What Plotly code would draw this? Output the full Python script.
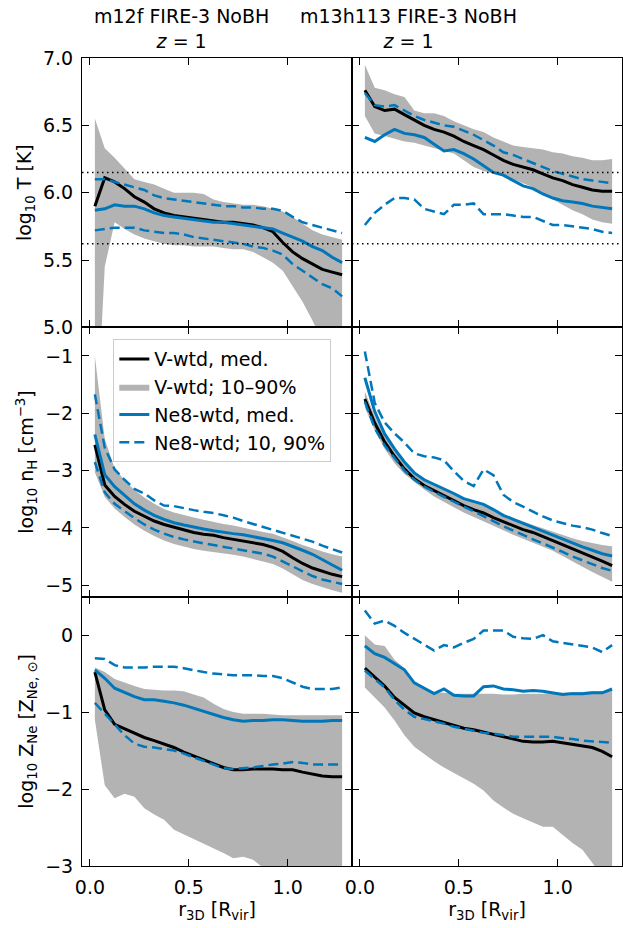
"""Radial profiles of T, n_H and Z_Ne for two FIRE-3 NoBH haloes at z=1."""

import plotly.graph_objects as go
from plotly.subplots import make_subplots

# radial bin centres [R_vir]
R_BINS = [0.025, 0.075, 0.125, 0.175, 0.225, 0.275, 0.325, 0.375, 0.425,
          0.475, 0.525, 0.575, 0.625, 0.675, 0.725, 0.775, 0.825, 0.875,
          0.925, 0.975, 1.025, 1.075, 1.125, 1.175, 1.225, 1.275]

HALOS = ["m12f FIRE-3 NoBH", "m13h113 FIRE-3 NoBH"]

# ---- log10 T [K] ----
T_V_MED = [
    [5.90, 6.11, 6.08, 6.03, 5.97, 5.93, 5.88, 5.85, 5.83, 5.82, 5.81, 5.80, 5.79,
     5.78, 5.78, 5.77, 5.76, 5.74, 5.71, 5.63, 5.56, 5.51, 5.47, 5.43, 5.41, 5.39],
    [6.76, 6.64, 6.61, 6.62, 6.58, 6.54, 6.50, 6.47, 6.45, 6.42, 6.38, 6.35, 6.32,
     6.28, 6.24, 6.21, 6.19, 6.17, 6.14, 6.11, 6.09, 6.06, 6.04, 6.02, 6.01, 6.01],
]
T_V_LO = [
    [4.00, 5.45, 5.78, 5.73, 5.69, 5.66, 5.64, 5.62, 5.61, 5.61, 5.60, 5.60, 5.60,
     5.59, 5.58, 5.58, 5.56, 5.52, 5.48, 5.42, 5.31, 5.19, 5.05, 4.90, 4.80, 4.75],
    [6.57, 6.44, 6.42, 6.40, 6.38, 6.37, 6.35, 6.33, 6.31, 6.29, 6.24, 6.19, 6.16,
     6.14, 6.12, 6.10, 6.07, 6.04, 5.99, 5.95, 5.91, 5.87, 5.84, 5.80, 5.78, 5.77],
]
T_V_HI = [
    [6.55, 6.33, 6.26, 6.18, 6.10, 6.08, 6.06, 6.03, 6.00, 6.00, 6.00, 5.99, 5.95,
     5.93, 5.92, 5.91, 5.91, 5.90, 5.88, 5.86, 5.82, 5.77, 5.72, 5.69, 5.67, 5.65],
    [6.95, 6.78, 6.76, 6.73, 6.71, 6.61, 6.59, 6.59, 6.57, 6.53, 6.50, 6.47, 6.45,
     6.41, 6.38, 6.35, 6.34, 6.33, 6.32, 6.30, 6.29, 6.27, 6.26, 6.24, 6.24, 6.25],
]
T_NE8_MED = [
    [5.87, 5.88, 5.91, 5.90, 5.90, 5.88, 5.85, 5.83, 5.82, 5.81, 5.80, 5.79, 5.78,
     5.78, 5.77, 5.76, 5.75, 5.74, 5.73, 5.70, 5.67, 5.64, 5.60, 5.57, 5.52, 5.48],
    [6.41, 6.38, 6.43, 6.47, 6.44, 6.43, 6.41, 6.36, 6.31, 6.32, 6.29, 6.25, 6.20,
     6.15, 6.13, 6.09, 6.05, 6.03, 5.99, 5.96, 5.94, 5.93, 5.92, 5.90, 5.89, 5.88],
]
T_NE8_LO = [
    [5.72, 5.73, 5.74, 5.74, 5.74, 5.72, 5.71, 5.70, 5.70, 5.69, 5.67, 5.66, 5.65,
     5.64, 5.63, 5.62, 5.60, 5.59, 5.57, 5.54, 5.47, 5.42, 5.37, 5.32, 5.29, 5.23],
    [5.76, 5.85, 5.91, 5.96, 5.96, 5.95, 5.88, 5.86, 5.84, 5.91, 5.91, 5.92, 5.84,
     5.84, 5.84, 5.83, 5.82, 5.82, 5.79, 5.76, 5.76, 5.75, 5.74, 5.73, 5.71, 5.70],
]
T_NE8_HI = [
    [6.10, 6.10, 6.08, 6.06, 6.04, 6.02, 5.98, 5.96, 5.95, 5.94, 5.93, 5.92, 5.91,
     5.90, 5.90, 5.89, 5.89, 5.88, 5.88, 5.865, 5.82, 5.78, 5.76, 5.74, 5.72, 5.70],
    [6.74, 6.65, 6.64, 6.65, 6.61, 6.57, 6.54, 6.52, 6.50, 6.49, 6.46, 6.43, 6.39,
     6.35, 6.30, 6.28, 6.25, 6.22, 6.19, 6.16, 6.14, 6.12, 6.10, 6.09, 6.08, 6.07],
]
T_REF_LINES = [6.15, 5.62]

# ---- log10 n_H [cm^-3] ----
NH_V_MED = [
    [-2.55, -3.25, -3.45, -3.59, -3.71, -3.80, -3.88, -3.94, -3.99, -4.03, -4.08, -4.11, -4.13,
     -4.17, -4.20, -4.23, -4.26, -4.29, -4.34, -4.41, -4.52, -4.62, -4.70, -4.76, -4.81, -4.85],
    [-1.75, -2.17, -2.50, -2.75, -2.97, -3.14, -3.26, -3.35, -3.43, -3.52, -3.61, -3.68, -3.74,
     -3.82, -3.89, -3.97, -4.03, -4.08, -4.15, -4.22, -4.29, -4.36, -4.43, -4.50, -4.58, -4.66],
]
NH_V_LO = [
    [-3.03, -3.46, -3.66, -3.81, -3.94, -4.05, -4.14, -4.22, -4.28, -4.33, -4.37, -4.40, -4.42,
     -4.44, -4.47, -4.50, -4.54, -4.58, -4.63, -4.71, -4.81, -4.91, -4.98, -5.04, -5.09, -5.13],
    [-1.90, -2.30, -2.62, -2.87, -3.06, -3.20, -3.33, -3.45, -3.55, -3.64, -3.73, -3.81, -3.89,
     -3.97, -4.05, -4.12, -4.19, -4.26, -4.33, -4.40, -4.49, -4.59, -4.68, -4.77, -4.86, -4.94],
]
NH_V_HI = [
    [-1.00, -2.45, -2.96, -3.17, -3.34, -3.47, -3.58, -3.67, -3.73, -3.78, -3.82, -3.86, -3.90,
     -3.93, -3.96, -4.00, -4.03, -4.07, -4.10, -4.16, -4.23, -4.30, -4.36, -4.41, -4.46, -4.50],
    [-1.62, -2.05, -2.40, -2.66, -2.87, -3.04, -3.15, -3.24, -3.31, -3.39, -3.47, -3.53, -3.60,
     -3.68, -3.76, -3.83, -3.89, -3.95, -4.01, -4.07, -4.13, -4.18, -4.23, -4.27, -4.30, -4.32],
]
NH_NE8_MED = [
    [-2.37, -3.07, -3.28, -3.43, -3.58, -3.69, -3.78, -3.85, -3.91, -3.95, -3.99, -4.02, -4.05,
     -4.08, -4.10, -4.12, -4.15, -4.18, -4.22, -4.26, -4.32, -4.39, -4.46, -4.55, -4.64, -4.74],
    [-1.38, -1.97, -2.36, -2.62, -2.85, -3.04, -3.16, -3.24, -3.31, -3.40, -3.49, -3.54, -3.59,
     -3.68, -3.78, -3.85, -3.92, -3.98, -4.06, -4.13, -4.20, -4.27, -4.33, -4.39, -4.45, -4.49],
]
NH_NE8_LO = [
    [-2.85, -3.38, -3.58, -3.71, -3.83, -3.94, -4.03, -4.10, -4.16, -4.20, -4.24, -4.27, -4.30,
     -4.33, -4.36, -4.39, -4.42, -4.45, -4.50, -4.58, -4.67, -4.76, -4.84, -4.90, -4.94, -4.98],
    [-1.80, -2.26, -2.56, -2.79, -3.00, -3.16, -3.28, -3.37, -3.46, -3.55, -3.63, -3.71, -3.79,
     -3.88, -3.97, -4.05, -4.13, -4.20, -4.27, -4.34, -4.42, -4.50, -4.57, -4.64, -4.70, -4.75],
]
NH_NE8_HI = [
    [-1.67, -2.60, -2.98, -3.16, -3.32, -3.40, -3.52, -3.61, -3.62, -3.66, -3.69, -3.72, -3.74,
     -3.78, -3.82, -3.88, -3.93, -3.99, -4.04, -4.08, -4.13, -4.18, -4.24, -4.31, -4.37, -4.43],
    [-0.92, -1.82, -2.16, -2.35, -2.51, -2.70, -2.75, -2.77, -2.82, -3.01, -3.18, -3.27, -2.98,
     -3.08, -3.42, -3.55, -3.63, -3.72, -3.80, -3.87, -3.92, -3.96, -3.99, -4.03, -4.09, -4.14],
]

# ---- log10 Z_Ne [Z_Ne,sun] ----
Z_V_MED = [
    [-0.48, -0.97, -1.16, -1.22, -1.28, -1.33, -1.37, -1.41, -1.46, -1.52, -1.57, -1.62, -1.67,
     -1.72, -1.75, -1.75, -1.74, -1.74, -1.74, -1.75, -1.75, -1.78, -1.81, -1.83, -1.84, -1.84],
    [-0.43, -0.54, -0.66, -0.81, -0.91, -1.01, -1.06, -1.10, -1.14, -1.18, -1.21, -1.23, -1.26,
     -1.30, -1.33, -1.36, -1.38, -1.39, -1.39, -1.38, -1.40, -1.42, -1.44, -1.46, -1.51, -1.58],
]
Z_V_LO = [
    [-1.10, -1.95, -2.12, -2.06, -2.10, -2.25, -2.33, -2.40, -2.53, -2.59, -2.64, -2.70, -2.76,
     -2.83, -2.90, -2.88, -2.92, -3.02, -3.10, -3.20, -3.25, -3.30, -3.35, -3.40, -3.45, -3.50],
    [-0.68, -0.81, -0.94, -1.11, -1.30, -1.45, -1.55, -1.64, -1.72, -1.79, -1.86, -1.93, -2.02,
     -2.15, -2.24, -2.32, -2.38, -2.44, -2.49, -2.49, -2.60, -2.70, -2.79, -2.97, -3.15, -3.30],
]
Z_V_HI = [
    [-0.42, -0.48, -0.57, -0.62, -0.66, -0.70, -0.71, -0.72, -0.72, -0.73, -0.77, -0.81, -0.89,
     -0.96, -1.00, -1.02, -1.02, -1.02, -1.03, -1.04, -1.04, -1.04, -1.04, -1.04, -1.04, -1.04],
    [0.00, -0.12, -0.14, -0.32, -0.43, -0.62, -0.69, -0.74, -0.75, -0.76, -0.76, -0.76, -0.76,
     -0.76, -0.77, -0.77, -0.76, -0.76, -0.76, -0.75, -0.75, -0.74, -0.74, -0.73, -0.73, -0.72],
]
Z_NE8_MED = [
    [-0.45, -0.56, -0.69, -0.75, -0.80, -0.84, -0.84, -0.86, -0.88, -0.91, -0.95, -1.00, -1.04,
     -1.07, -1.10, -1.12, -1.11, -1.11, -1.10, -1.10, -1.11, -1.12, -1.12, -1.12, -1.11, -1.11],
    [-0.14, -0.24, -0.29, -0.37, -0.45, -0.62, -0.69, -0.76, -0.70, -0.78, -0.79, -0.79, -0.67,
     -0.66, -0.70, -0.71, -0.73, -0.72, -0.73, -0.75, -0.77, -0.76, -0.76, -0.75, -0.75, -0.70],
]
Z_NE8_LO = [
    [-0.88, -1.02, -1.15, -1.30, -1.41, -1.45, -1.46, -1.48, -1.50, -1.54, -1.59, -1.64, -1.69,
     -1.73, -1.74, -1.73, -1.72, -1.70, -1.68, -1.67, -1.65, -1.66, -1.68, -1.68, -1.68, -1.68],
    [-0.46, -0.57, -0.68, -0.84, -0.97, -1.06, -1.09, -1.12, -1.15, -1.19, -1.22, -1.25, -1.27,
     -1.28, -1.30, -1.32, -1.32, -1.32, -1.32, -1.32, -1.34, -1.35, -1.37, -1.38, -1.39, -1.40],
]
Z_NE8_HI = [
    [-0.30, -0.31, -0.39, -0.42, -0.42, -0.42, -0.41, -0.41, -0.41, -0.43, -0.46, -0.48, -0.50,
     -0.51, -0.52, -0.52, -0.52, -0.53, -0.53, -0.56, -0.62, -0.67, -0.70, -0.70, -0.70, -0.68],
    [0.32, 0.15, 0.19, 0.12, 0.03, -0.05, -0.12, -0.20, -0.13, -0.16, -0.10, -0.05, 0.06,
     0.06, 0.06, -0.02, -0.04, -0.05, 0.00, -0.08, -0.10, -0.12, -0.14, -0.16, -0.22, -0.13],
]

BLUE = "#0077bb"
GREY = "#b3b3b3"
FONT = "DejaVu Sans"
FS = 19

ROWS = [
    (T_V_MED, T_V_LO, T_V_HI, T_NE8_MED, T_NE8_LO, T_NE8_HI),
    (NH_V_MED, NH_V_LO, NH_V_HI, NH_NE8_MED, NH_NE8_LO, NH_NE8_HI),
    (Z_V_MED, Z_V_LO, Z_V_HI, Z_NE8_MED, Z_NE8_LO, Z_NE8_HI),
]
Y_TITLES = [
    "log<sub>10</sub> T [K]",
    "log<sub>10</sub> n<sub>H</sub> [cm<sup>−3</sup>]",
    "log<sub>10</sub> Z<sub>Ne</sub> [Z<sub>Ne, ⊙</sub>]",
]
Y_RANGES = [[5.0, 7.0], [-5.2, -0.5], [-3.0, 0.5]]
Y_DTICK = [0.5, 1, 1]
DASH = "10px,5px"

fig = make_subplots(rows=3, cols=2, horizontal_spacing=0, vertical_spacing=0,
                    shared_xaxes=True, shared_yaxes=True)

for r, (v_med, v_lo, v_hi, n_med, n_lo, n_hi) in enumerate(ROWS, start=1):
    for c in (1, 2):
        i = c - 1
        legend = (r == 2 and c == 1)
        fig.add_trace(go.Scatter(
            x=R_BINS, y=v_lo[i], mode="lines", line=dict(width=0, color=GREY),
            showlegend=False, hoverinfo="skip",
        ), row=r, col=c)
        fig.add_trace(go.Scatter(
            x=R_BINS, y=v_hi[i], mode="lines", line=dict(width=0, color=GREY),
            fill="tonexty", fillcolor=GREY, name="V-wtd; 10–90%",
            showlegend=legend, legendrank=2,
        ), row=r, col=c)
        fig.add_trace(go.Scatter(
            x=R_BINS, y=v_med[i], mode="lines", line=dict(width=3, color="black"),
            name="V-wtd, med.", showlegend=legend, legendrank=1,
        ), row=r, col=c)
        fig.add_trace(go.Scatter(
            x=R_BINS, y=n_med[i], mode="lines", line=dict(width=3, color=BLUE),
            name="Ne8-wtd, med.", showlegend=legend, legendrank=3,
        ), row=r, col=c)
        fig.add_trace(go.Scatter(
            x=R_BINS, y=n_lo[i], mode="lines",
            line=dict(width=2.5, color=BLUE, dash=DASH),
            name="Ne8-wtd; 10, 90%", showlegend=legend, legendrank=4,
        ), row=r, col=c)
        fig.add_trace(go.Scatter(
            x=R_BINS, y=n_hi[i], mode="lines",
            line=dict(width=2.5, color=BLUE, dash=DASH),
            showlegend=False,
        ), row=r, col=c)

for c in (1, 2):
    for t in T_REF_LINES:
        fig.add_hline(y=t, row=1, col=c,
                      line=dict(color="black", width=1.5, dash="1.5px,3.5px"))

axis_style = dict(
    showline=True, linecolor="black", linewidth=1, mirror="ticks",
    ticks="inside", ticklen=7, tickwidth=1.3, tickcolor="black",
    showgrid=False, zeroline=False, automargin=False, ticklabelstandoff=4,
    tickfont=dict(family=FONT, size=FS, color="black"),
)
fig.update_xaxes(range=[-0.04, 1.325], dtick=0.5, tick0=0, tickformat=".1f",
                 **axis_style)
for c in (1, 2):
    fig.update_xaxes(title=dict(text="r<sub>3D</sub> [R<sub>vir</sub>]",
                                font=dict(family=FONT, size=FS, color="black"),
                                standoff=4),
                     row=3, col=c)
for r in range(1, 4):
    fig.update_yaxes(range=Y_RANGES[r - 1], dtick=Y_DTICK[r - 1], tick0=0,
                     **axis_style, row=r)
    fig.update_yaxes(title=dict(text=Y_TITLES[r - 1],
                                font=dict(family=FONT, size=FS, color="black"),
                                standoff=6),
                     tickformat=".1f" if r == 1 else "d", row=r, col=1)

for name, xpos in zip(HALOS, [0.185, 0.604]):
    fig.add_annotation(
        x=xpos, y=1.0, xref="paper", yref="paper", xanchor="center",
        yanchor="bottom", yshift=4, showarrow=False, align="center",
        text=f"{name}<br><i>z</i> = 1",
        font=dict(family=FONT, size=FS, color="black"),
    )

fig.update_layout(
    width=623, height=928,
    margin=dict(l=82, r=1, t=58, b=62),
    paper_bgcolor="white", plot_bgcolor="white",
    font=dict(family=FONT, size=FS, color="black"),
    legend=dict(
        x=0.058, y=0.652, xanchor="left", yanchor="top", traceorder="normal",
        bgcolor="rgba(255,255,255,0.85)", bordercolor="#cccccc", borderwidth=1,
        font=dict(family=FONT, size=FS), tracegroupgap=0, itemwidth=30,
    ),
)

# drop the browser's default 8px page margin so the figure sits at (0, 0)
fig.write_html("out.html", config={"displayModeBar": False},
               post_script="document.body.style.margin='0';")
